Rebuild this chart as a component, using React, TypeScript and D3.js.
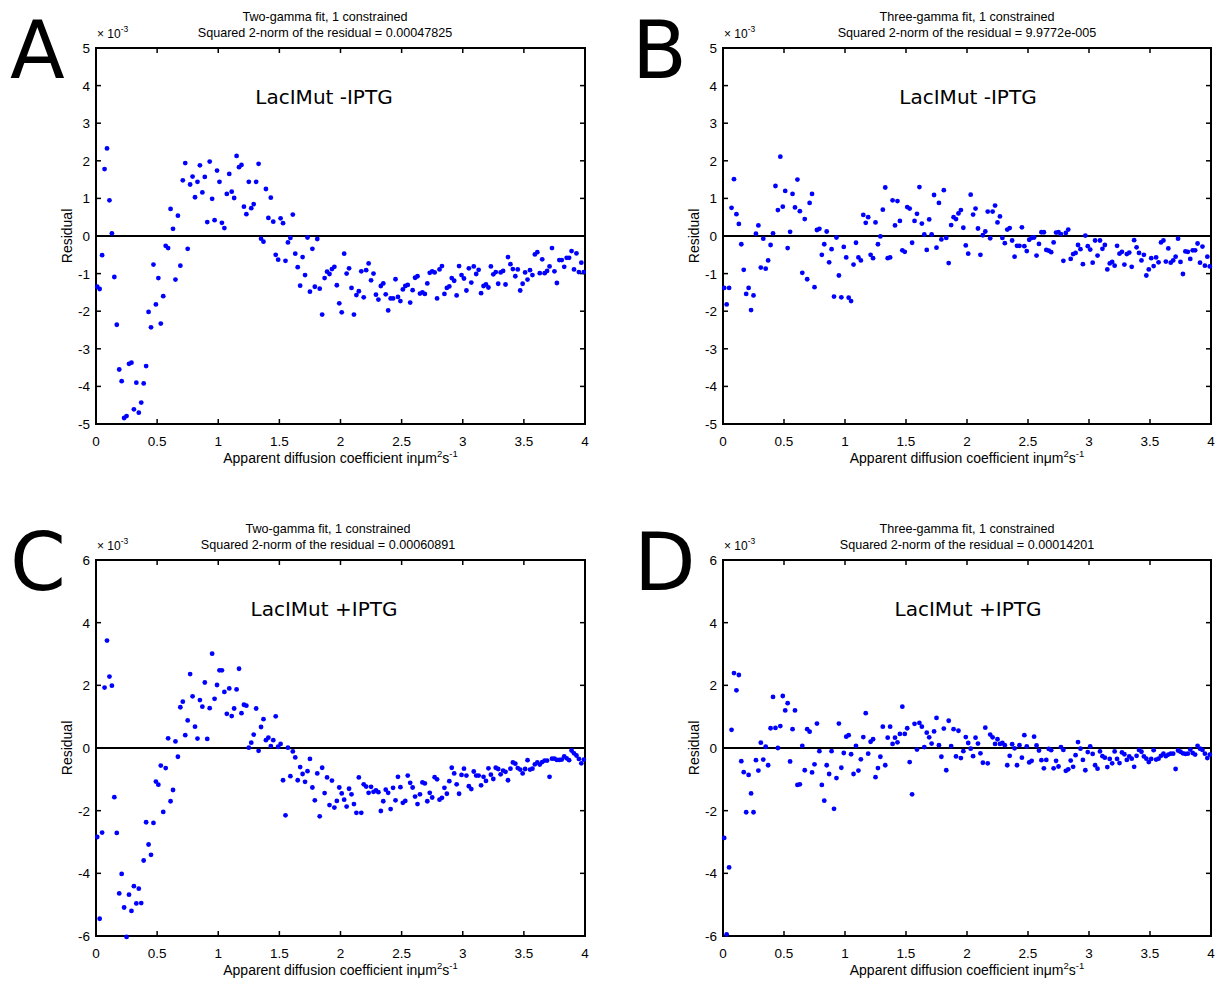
import React from 'react';
import * as d3 from 'd3';

// Sampling grid of apparent diffusion coefficients (µm² s⁻¹)
const diffusionGrid: number[] = d3.range(200).map((i) => 0.01 + 0.02 * i);

const xTicks = [0, 0.5, 1, 1.5, 2, 2.5, 3, 3.5, 4];
const yTicksMinusIPTG = [-5, -4, -3, -2, -1, 0, 1, 2, 3, 4, 5];
const yTicksPlusIPTG = [-6, -4, -2, 0, 2, 4, 6];

const panelLetters = ['A', 'B', 'C', 'D'];
const fitTitles = [
  'Two-gamma fit, 1 constrained',
  'Three-gamma fit, 1 constrained',
  'Two-gamma fit, 1 constrained',
  'Three-gamma fit, 1 constrained',
];
const normTitles = [
  'Squared 2-norm of the residual = 0.00047825',
  'Squared 2-norm of the residual = 9.9772e-005',
  'Squared 2-norm of the residual = 0.00060891',
  'Squared 2-norm of the residual = 0.00014201',
];
const conditionLabels = ['LacIMut -IPTG', 'LacIMut -IPTG', 'LacIMut +IPTG', 'LacIMut +IPTG'];

// Residuals (×10⁻³)
const residualA = [
  -1.35, -1.41, -0.51, 1.78, 2.33, 0.95, 0.07, -1.09, -2.36, -3.55,
  -3.86, -4.84, -4.79, -3.40, -3.37, -4.61, -3.90, -4.70, -4.43, -3.92,
  -3.46, -2.02, -2.43, -0.76, -1.82, -1.12, -2.33, -1.60, -0.26, -0.32,
  0.72, 0.19, -1.16, 0.54, -0.79, 1.48, 1.94, -0.34, 1.37, 1.58,
  1.03, 1.44, 1.88, 1.16, 1.57, 0.37, 1.98, 0.99, 0.42, 1.74,
  1.44, 0.35, 0.21, 1.12, 1.65, 1.18, 1.01, 2.13, 1.83, 1.89,
  0.78, 0.58, 1.44, 0.74, 0.85, 1.44, 1.92, -0.07, -0.15, 1.25,
  0.48, 1.02, 0.38, -0.50, -0.63, 0.47, 0.34, -0.66, -0.17, -0.05,
  0.57, -0.47, -0.83, -1.32, -0.56, -1.04, -0.04, -1.48, -0.34, -1.35,
  -0.08, -1.40, -2.09, -1.12, -0.95, -1.01, -0.88, -0.82, -1.31, -1.79,
  -2.03, -0.47, -1.00, -0.86, -1.38, -2.09, -1.57, -1.47, -0.94, -1.63,
  -0.91, -0.73, -1.18, -1.00, -1.56, -1.69,
  -1.33, -1.26, -1.55, -1.98, -1.66, -1.66, -1.15, -1.62, -1.73, -1.42,
  -1.33, -1.30, -1.77, -1.44, -1.11, -1.07, -1.53, -1.50, -1.54, -1.26,
  -0.98, -0.94, -0.97, -1.66, -0.89, -0.80, -1.54, -1.38, -1.34, -1.12,
  -1.19, -1.58, -0.80, -1.04, -1.13, -1.45, -0.86, -1.24, -0.81, -1.01,
  -0.90, -1.52, -1.33, -1.29, -1.37, -0.81, -1.02, -0.96, -1.27, -0.97,
  -0.93, -1.29, -0.56, -0.75, -0.88, -1.07, -0.89, -1.45, -1.27, -0.97,
  -1.16, -0.91, -1.04, -0.49, -0.43, -0.99, -0.62, -0.99, -0.93, -0.81,
  -0.32, -0.94, -1.25, -0.64, -0.64, -0.82, -0.58, -0.58, -0.40, -0.89,
  -0.46, -0.96, -0.71, -0.96,
];

const residualB = [
  -1.38, -1.82, -1.38, 0.75, 1.51, 0.58, 0.32, -0.22, -0.90, -1.54,
  -1.38, -1.97, -1.58, 0.06, 0.28, -0.84, -0.07, -0.87, -0.65, -0.24,
  0.07, 1.33, 0.69, 2.11, 0.78, 1.20, -0.32, 0.11, 1.12, 0.76,
  1.50, 0.66, -0.98, 0.45, -1.15, 0.88, 1.12, -1.36, 0.16, 0.19,
  -0.50, -0.22, 0.12, -0.70, -0.35, -1.61, -0.04, -1.05, -1.63, -0.29,
  -0.57, -1.64, -1.73, -0.76, -0.18, -0.57, -0.65, 0.56, 0.35, 0.50,
  -0.50, -0.59, 0.36, -0.22, -0.01, 0.70, 1.29, -0.59, -0.57, 0.95,
  0.28, 0.93, 0.40, -0.38, -0.42, 0.77, 0.73, -0.18, 0.40, 0.59,
  1.30, 0.33, 0.04, -0.37, 0.44, 0.04, 1.09, -0.31, 0.88, -0.09,
  1.22, -0.05, -0.72, 0.29, 0.50, 0.45, 0.60, 0.69, 0.22, -0.25,
  -0.47, 1.10, 0.57, 0.73, 0.20, -0.50, 0.02, 0.12, 0.65, -0.06,
  0.65, 0.81, 0.36, 0.52, -0.05, -0.19, 0.17, 0.21, -0.12, -0.55,
  -0.26,
  -0.26, 0.23, -0.27, -0.40, -0.10, -0.05, -0.04, -0.52, -0.21,
  0.10, 0.10, -0.37, -0.39, -0.43, -0.17, 0.09, 0.10, 0.05, -0.66,
  0.08, 0.17, -0.61, -0.48, -0.45, -0.24, -0.35, -0.75, 0.01, -0.27,
  -0.36, -0.71, -0.12, -0.52, -0.12, -0.34, -0.24, -0.89, -0.73, -0.69,
  -0.79, -0.26, -0.47, -0.42, -0.76, -0.48, -0.44, -0.82, -0.11, -0.30,
  -0.45, -0.65, -0.50, -1.05, -0.89, -0.59, -0.80, -0.57, -0.70, -0.17,
  -0.12, -0.68, -0.33, -0.71, -0.65, -0.55, -0.07, -0.69, -1.01, -0.41,
  -0.42, -0.61, -0.38, -0.38, -0.20, -0.71, -0.28, -0.79, -0.55, -0.81,
];

const residualC = [
  -2.84, -5.45, -2.70, 1.93, 3.43, 2.28, 1.99, -1.57, -2.71, -4.64,
  -4.02, -5.09, -6.03, -4.68, -5.20, -4.41, -4.96, -4.49, -4.95, -3.59,
  -2.37, -3.08, -3.41, -2.39, -1.07, -1.17, -0.56, -2.04, -0.64, 0.31,
  -1.70, -1.34, 0.21, -0.28, 1.30, 1.48, 0.41, 0.88, 2.36, 1.65,
  0.68, 0.30, 1.53, 1.32, 2.09, 0.29, 1.27, 3.01, 1.57, 2.01,
  2.48, 2.48, 1.79, 1.09, 1.90, 1.02, 1.26, 1.87, 2.53, 1.11,
  1.38, 1.35, 0.01, 0.17, 0.43, 1.26, -0.09, 0.67, 0.92, 0.25,
  0.33, 0.06, 0.25, 1.01, 0.04, 0.13, -1.03, -2.15, 0.01, -0.90,
  -0.11, -0.30, -1.03, -0.61, -0.83, -1.08, -0.74, -0.35, -1.26, -1.67,
  -0.81, -2.18, -0.63, -1.44, -0.94, -1.82, -1.04, -1.90, -1.69, -1.26,
  -1.45, -1.65, -1.87, -1.30, -1.48, -1.79, -2.07, -0.94, -2.07, -1.16,
  -1.23, -1.43, -1.24, -1.40, -1.35, -1.41, -2.01, -1.70, -1.33, -1.43,
  -1.95, -1.27, -1.67, -0.92, -1.25, -1.75, -1.69, -0.88, -1.11,
  -1.26, -1.55, -1.79, -1.48, -1.10, -1.13, -1.70, -1.43, -1.58, -0.93,
  -1.00, -1.65, -1.59, -1.27, -1.46, -1.06, -0.63, -0.81, -1.16, -1.46,
  -0.86, -0.66, -0.88, -1.22, -1.31, -0.75, -0.88, -0.88, -1.19, -0.92,
  -1.05, -0.65, -0.85, -0.99, -0.63, -0.67, -0.84, -0.72, -0.76, -1.03,
  -0.66, -0.46, -0.50, -0.64, -0.69, -0.81, -0.67, -0.39, -0.69, -0.66,
  -0.52, -0.46, -0.53, -0.45, -0.40, -0.40, -0.92, -0.34, -0.34, -0.38,
  -0.38, -0.37, -0.27, -0.33, -0.39, -0.08, -0.17, -0.24, -0.35, -0.49,
  -0.37,
];

const residualD = [
  -2.87, -5.95, -3.81, 0.58, 2.39, 1.84, 2.33, -0.42, -0.77, -2.05,
  -0.86, -1.45, -2.05, -0.39, -0.72, 0.17, -0.37, 0.04, -0.55, 0.63,
  1.63, 0.64, 0.00, 0.70, 1.66, 1.20, 1.43, -0.43, 0.60, 1.20,
  -1.18, -1.16, 0.07, -0.71, 0.60, 0.52, -0.78, -0.52, 0.78, -0.10,
  -1.18, -1.68, -0.55, -0.83, -0.10, -1.94, -0.96, 0.78, -0.63, -0.16,
  0.36, 0.41, -0.20, -0.83, 0.07, -0.72, -0.36, 0.35, 1.11, -0.18,
  0.20, 0.28, -0.93, -0.64, -0.28, 0.68, -0.55, 0.33, 0.68, 0.13,
  0.33, 0.18, 0.45, 1.32, 0.45, 0.63, -0.45, -1.48, 0.77, -0.05,
  0.80, 0.68, 0.03, 0.49, 0.34, 0.14, 0.53, 0.96, 0.09, -0.28,
  0.62, -0.71, 0.87, 0.06, 0.60, -0.27, 0.55, -0.32, -0.10, 0.35,
  0.16, -0.02, -0.26, 0.33, 0.14, -0.17, -0.47, 0.65, -0.49, 0.43,
  0.34, 0.13, 0.28, 0.13, 0.16, 0.09, -0.55, -0.25, 0.12, -0.01,
  -0.55,
  0.09, -0.31, 0.41, 0.05, -0.46, -0.41, 0.36, 0.08, -0.08, -0.39,
  -0.65, -0.38, -0.03, -0.07, -0.65, -0.41, -0.59, 0.03, -0.06, -0.73,
  -0.68, -0.40, -0.60, -0.23, 0.19, -0.02, -0.38, -0.71, -0.13, 0.05,
  -0.19, -0.55, -0.66, -0.11, -0.26, -0.31, -0.61, -0.35, -0.49, -0.11,
  -0.35, -0.48, -0.14, -0.20, -0.38, -0.27, -0.34, -0.60, -0.25, -0.06,
  -0.12, -0.27, -0.34, -0.45, -0.35, -0.07, -0.37, -0.34, -0.25, -0.18,
  -0.26, -0.21, -0.18, -0.18, -0.67, -0.08, -0.12, -0.17, -0.19, -0.18,
  -0.05, -0.16, -0.21, 0.07, -0.02, -0.06, -0.18, -0.32, -0.21,
];

const MATLAB_FONT = '"Liberation Sans", Arial, Helvetica, sans-serif';
const LABEL_FONT = '"DejaVu Sans", Verdana, sans-serif';

type PanelProps = {
  index: number;
  values: number[];
  yTicks: number[];
  left: number;
  right: number;
  top: number;
  bottom: number;
  letterX: number;
  letterY: number;
  labelX: number;
  titleX: number;
};

function Panel(p: PanelProps) {
  const yMax = d3.max(p.yTicks) as number;
  const yMin = d3.min(p.yTicks) as number;
  const x = d3.scaleLinear().domain([0, 4]).range([p.left, p.right]);
  const y = d3.scaleLinear().domain([yMin, yMax]).range([p.bottom, p.top]);
  const tick = 5;
  const midX = (p.left + p.right) / 2;
  const midY = (p.top + p.bottom) / 2;
  return (
    <g>
      <text x={p.letterX} y={p.letterY} fontFamily={LABEL_FONT} fontSize={80} fill="#000">
        {panelLetters[p.index]}
      </text>
      <text x={p.titleX} y={p.top - 27} textAnchor="middle" fontFamily={MATLAB_FONT} fontSize={12.6}>
        {fitTitles[p.index]}
      </text>
      <text x={p.titleX} y={p.top - 11} textAnchor="middle" fontFamily={MATLAB_FONT} fontSize={12.6}>
        {normTitles[p.index]}
      </text>
      <text x={p.left + 1} y={p.top - 10} fontFamily={MATLAB_FONT} fontSize={12}>
        {'× 10'}
        <tspan dy={-6} fontSize={8.5}>-3</tspan>
      </text>
      {/* frame */}
      <rect x={p.left} y={p.top} width={p.right - p.left} height={p.bottom - p.top} fill="none" stroke="#000" strokeWidth={2} />
      {/* x ticks (inside, bottom and top) */}
      {xTicks.map((t) => (
        <g key={'x' + t}>
          <line x1={x(t)} x2={x(t)} y1={p.bottom} y2={p.bottom - tick} stroke="#000" strokeWidth={1.5} />
          <line x1={x(t)} x2={x(t)} y1={p.top} y2={p.top + tick} stroke="#000" strokeWidth={1.5} />
          <text x={x(t)} y={p.bottom + 22} textAnchor="middle" fontFamily={MATLAB_FONT} fontSize={13.5}>
            {String(t)}
          </text>
        </g>
      ))}
      {/* y ticks */}
      {p.yTicks.map((t) => (
        <g key={'y' + t}>
          <line x1={p.left} x2={p.left + tick} y1={y(t)} y2={y(t)} stroke="#000" strokeWidth={1.5} />
          <line x1={p.right} x2={p.right - tick} y1={y(t)} y2={y(t)} stroke="#000" strokeWidth={1.5} />
          <text x={p.left - 6} y={y(t) + 5} textAnchor="end" fontFamily={MATLAB_FONT} fontSize={13.5}>
            {String(t)}
          </text>
        </g>
      ))}
      {/* zero line */}
      <line x1={p.left} x2={p.right} y1={y(0)} y2={y(0)} stroke="#000" strokeWidth={2} />
      {/* points */}
      {p.values.map((v, i) => (
        <circle key={i} cx={x(diffusionGrid[i])} cy={y(v)} r={2.4} fill="#0000ff" />
      ))}
      {/* condition label */}
      <text x={p.labelX} y={p.top + 56} textAnchor="middle" fontFamily={LABEL_FONT} fontSize={20}>
        {conditionLabels[p.index]}
      </text>
      {/* axis labels */}
      <text x={midX} y={p.bottom + 39} textAnchor="middle" fontFamily={MATLAB_FONT} fontSize={14}>
        Apparent diffusion coefficient in
        <tspan>μm</tspan>
        <tspan dy={-6} fontSize={9.5}>2</tspan>
        <tspan dy={6}>s</tspan>
        <tspan dy={-6} fontSize={9.5}>-1</tspan>
      </text>
      <text
        transform={`translate(${p.left - 24},${midY}) rotate(-90)`}
        textAnchor="middle"
        fontFamily={MATLAB_FONT}
        fontSize={14}
      >
        Residual
      </text>
    </g>
  );
}

export default function App() {
  return (
    <svg
      width={1221}
      height={981}
      style={{ position: 'absolute', left: 0, top: 0, background: '#fff' }}
    >
      <rect x={0} y={0} width={1221} height={981} fill="#fff" />
      <Panel index={0} values={residualA} yTicks={yTicksMinusIPTG} left={96} right={585} top={48} bottom={424}
        letterX={10} letterY={78} labelX={324} titleX={325} />
      <Panel index={1} values={residualB} yTicks={yTicksMinusIPTG} left={723} right={1211} top={48} bottom={424}
        letterX={632} letterY={78} labelX={968} titleX={967} />
      <Panel index={2} values={residualC} yTicks={yTicksPlusIPTG} left={96} right={585} top={560} bottom={936}
        letterX={10} letterY={590} labelX={324} titleX={328} />
      <Panel index={3} values={residualD} yTicks={yTicksPlusIPTG} left={723} right={1211} top={560} bottom={936}
        letterX={634} letterY={590} labelX={968} titleX={967} />
    </svg>
  );
}
